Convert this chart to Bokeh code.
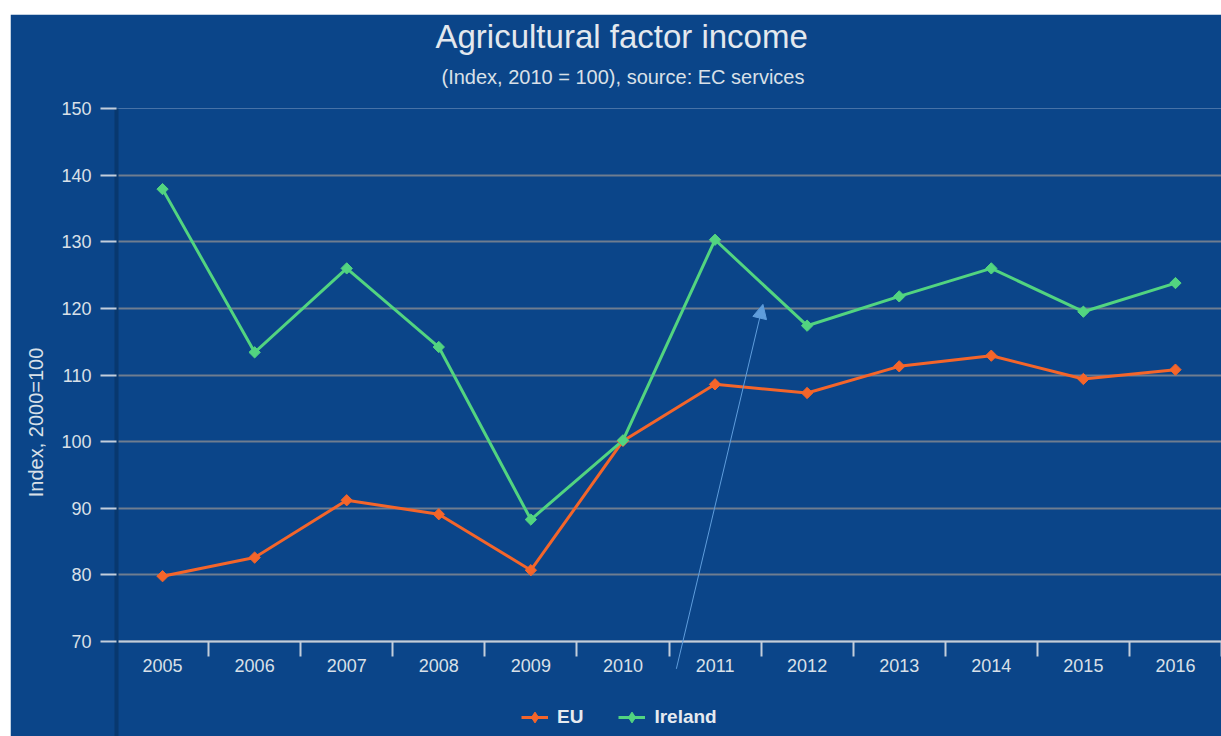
from bokeh.plotting import figure
from bokeh.models import (Range1d, FixedTicker, Legend, LegendItem, Title,
                          Arrow, NormalHead, LinearAxis, CDSView, IndexFilter)
from bokeh.embed import file_html
from bokeh.resources import INLINE
import math

# ---- data ----
years = ["2005", "2006", "2007", "2008", "2009", "2010",
         "2011", "2012", "2013", "2014", "2015", "2016"]
eu = [79.8, 82.6, 91.2, 89.1, 80.7, 100.1, 108.6, 107.3, 111.3, 112.9, 109.4, 110.8]
ireland = [137.9, 113.4, 126.0, 114.2, 88.3, 100.2, 130.3, 117.4, 121.8, 126.0, 119.5, 123.8]
y_ticks = [70, 80, 90, 100, 110, 120, 130, 140, 150]

title_text = "Agricultural factor income"
subtitle_text = "(Index, 2010 = 100), source: EC services"
y_label = "Index, 2000=100"

# ---- style ----
BG = "#0b4589"
TXT = "#d9e0e8"
EU_C = "#f4652a"
IE_C = "#52d480"
GRID = "#6f7d90"
ARROW_C = "#5f9ddc"
FONT = "Liberation Sans"

Y_MIN, Y_MAX = 70, 150
PLOT_H = 533          # px spanned by the value axis
EXTRA_H = 95          # px below the value axis (tick labels + legend)
y_start = Y_MIN - EXTRA_H / PLOT_H * (Y_MAX - Y_MIN)

xs = [i + 0.5 for i in range(len(years))]

p = figure(frame_width=1105, frame_height=PLOT_H + EXTRA_H, output_backend="svg",
           toolbar_location=None,
           x_range=Range1d(0, len(years)), y_range=Range1d(y_start, Y_MAX),
           min_border_left=106, min_border_right=0, min_border_top=94,
           min_border_bottom=0)
p.margin = (14, 0, 0, 10)
p.background_fill_color = BG
p.border_fill_color = BG
p.outline_line_color = None

# x axis drawn at y = 70: labels at category centres, tick marks at boundaries
xa = p.xaxis[0]
xa.fixed_location = Y_MIN
xa.ticker = FixedTicker(ticks=xs, minor_ticks=list(range(len(years) + 1)))
xa.major_label_overrides = {x: y for x, y in zip(xs, years)}
xa.major_tick_out = 0
xa.major_tick_in = 0
xa.minor_tick_out = 15
xa.minor_tick_in = 0
xa.minor_tick_line_color = "#c3cedb"
xa.minor_tick_line_width = 2
xa.axis_line_color = "#c3cedb"
xa.axis_line_width = 2
xa.major_label_standoff = 2
xa.major_label_text_color = TXT
xa.major_label_text_font = FONT
xa.major_label_text_font_size = "18px"
p.xgrid.visible = False

ya = p.yaxis[0]
ya.ticker = FixedTicker(ticks=y_ticks, minor_ticks=[])
ya.axis_line_color = "#08386f"
ya.axis_line_width = 4
ya.major_tick_out = 16
ya.major_tick_in = 0
ya.minor_tick_out = 0
ya.major_tick_line_color = "#c3cedb"
ya.major_tick_line_width = 2
ya.major_label_standoff = 9
ya.major_label_text_color = TXT
ya.major_label_text_font = FONT
ya.major_label_text_font_size = "18px"
ya.axis_label = y_label
ya.axis_label_text_color = TXT
ya.axis_label_text_font = FONT
ya.axis_label_text_font_size = "20px"
ya.axis_label_text_font_style = "normal"
ya.axis_label_standoff = 11
p.ygrid.ticker = FixedTicker(ticks=y_ticks)
p.ygrid.grid_line_color = GRID
p.ygrid.grid_line_width = 2

# titles (an empty spacer axis keeps them clear of the plot area)
p.title.text = title_text
p.title.align = "left"
p.title.offset = 319
p.title.standoff = 2
p.title.text_color = "#e3e8ee"
p.title.text_font = FONT
p.title.text_font_size = "33px"
p.title.text_font_style = "normal"
p.add_layout(LinearAxis(ticker=FixedTicker(ticks=[0.5], minor_ticks=[]),
                        major_label_overrides={0.5: ""},
                        major_label_text_font_size="1px",
                        axis_line_color=None,
                        major_tick_out=12, major_tick_in=0, minor_tick_out=0,
                        minor_tick_in=0, major_label_standoff=0,
                        major_tick_line_color=None, minor_tick_line_color=None),
             "above")
p.add_layout(Title(text=subtitle_text, align="left", offset=325, standoff=17,
                   text_color=TXT, text_font=FONT, text_font_size="20px",
                   text_font_style="normal"),
             "above")

# series
l_eu = p.line(xs, eu, line_color=EU_C, line_width=3)
l_ie = p.line(xs, ireland, line_color=IE_C, line_width=3)
# legend diamonds (a single small point hidden under the first marker)
k_eu = p.scatter(xs, eu, marker="diamond", size=6, fill_color=EU_C, line_color=EU_C,
                 view=CDSView(filter=IndexFilter(indices=[0])))
k_ie = p.scatter(xs, ireland, marker="diamond", size=6, fill_color=IE_C,
                 line_color=IE_C, view=CDSView(filter=IndexFilter(indices=[0])))
p.scatter(xs, eu, marker="square", angle=math.pi / 4, size=8,
          fill_color=EU_C, line_color=EU_C)
p.scatter(xs, ireland, marker="square", angle=math.pi / 4, size=8,
          fill_color=IE_C, line_color=IE_C)

# arrow annotation
p.add_layout(Arrow(end=NormalHead(size=14, fill_color=ARROW_C, line_color=ARROW_C),
                   x_start=6.08, y_start=65.9, x_end=7.02, y_end=120.6,
                   line_color=ARROW_C, line_width=1))

legend = Legend(items=[LegendItem(label="EU", renderers=[l_eu, k_eu]),
                       LegendItem(label="Ireland", renderers=[l_ie, k_ie])],
                orientation="horizontal", location=(405, 4))
legend.background_fill_alpha = 0
legend.border_line_alpha = 0
legend.padding = 0
legend.margin = 0
legend.spacing = 35
legend.label_standoff = 9
legend.glyph_width = 27
legend.glyph_height = 30
legend.label_text_font = FONT
legend.label_text_font_size = "19px"
legend.label_text_font_style = "bold"
legend.label_text_color = "#e6eaf0"
p.add_layout(legend)

open("out.html", "w").write(file_html(p, INLINE))
